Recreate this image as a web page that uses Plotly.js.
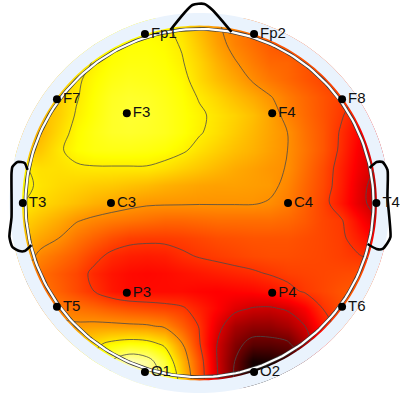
<!DOCTYPE html>
<html><head><meta charset="utf-8">
<script src="https://cdn.plot.ly/plotly-3.0.1.min.js"></script>
<style>html,body{margin:0;padding:0;background:#fff}#c{width:400px;height:400px}</style>
</head><body><div id="c"></div>
<script>
// Head coordinates: the scalp circle has radius 1, nose up.
const gridX = [-1,-.9,-.8,-.7,-.6,-.5,-.4,-.3,-.2,-.1,0,.1,.2,.3,.4,.5,.6,.7,.8,.9,1];
const gridY = [1,.9,.8,.7,.6,.5,.4,.3,.2,.1,0,-.1,-.2,-.3,-.4,-.5,-.6,-.7,-.8,-.9,-1];
const power = [
[30,30,29,28,27,26,26,26,27,30,36,41,45,48,50,52,54,56,58,60,60],
[31,31,30,29,28,26,25,25,26,28.5,34,39.5,44,47,50,52,54,56,58,60,61],
[33,33,32,31,27.5,25,24,24,25,27.5,32,37,41.5,45,48,48.5,51,53,55,57,59],
[35,35,34,29,26,23.5,22.5,23,24,26,31,35,38.5,42.5,45.5,48,50.5,53,55,57,59],
[37,36,33,28.5,25,22,21,21.5,23,25,28.5,31.5,35,38,41.5,45,48,51,54,57,60],
[38,36,32.5,27.5,24.5,21.5,20.5,21,22.5,24.5,27,29.5,32,35,39,44,47.5,51,55,60,64],
[38,36,31,26,23.5,21.5,21,21.5,22.5,24.5,27.5,30,33,36,39,42,46.5,50.5,56.5,62.5,68],
[35,33.5,29,25.5,24,23.5,23.5,24,25,27,30,32.5,35,37,39.5,42,46,50.5,57,64,69],
[27.5,30,30,29,28.5,28.5,28.5,28.5,30,32,34,36,38,39.5,41,42.2,47,52,58.5,65,70],
[26,29.5,31,32,33,33.5,34.5,35.5,37,38,39,39.5,39.5,40,40.5,43.5,48,52.5,59,66.5,73],
[28,31,33,35,37,38.5,40,41,41.2,41.3,41.5,41.5,41.5,41.5,42.5,45,49,53.5,60,67,73],
[32,35,38,41.5,43.5,45,46,47,48,48,47.5,47,47,47,47,48,50,53,55,62,69],
[35,39,42,46,49,52,54,54.5,54.5,54,53,52,51.5,51,51,51,52,53,54.5,59,64],
[38,44,47,50,54,57.5,59,59.5,59,57,55.5,54.5,53.5,52.5,52,52,52.5,53,54,55.5,58],
[41,47,50,53,57.5,60.5,62,62.5,62,61,60,59,58,57,55.5,54,53.5,53,52.5,52,52],
[40,46,49,52.5,56,60,62,62,62,62,63,63.5,63,62.5,61,58,55,53,51,50,50],
[38,42,45,46.5,48,50,51.5,52.5,53.5,55,59,63,68,70.5,71,69,64,56,52,50,49],
[35,38,39.5,40.5,40,40,40.5,41,43,49,56.5,67,76,79,79,76,70,60,53,50,49],
[38,36,34,32,30,26,24,25,29.5,41.5,55.5,70,81,87,87,85.5,76,62,54,50,49],
[40,38,36,32,26,14,7,10,20,36,52,70,84,97,96,92,85,75,60,50,49],
[40,38,36,34,28,14,8,9,15,32,51,69,85,99,100,96,88,80,65,52,49]
];
const contourStart = 14, contourEnd = 86, contourStep = 14;
const hotReversed = [[0,'#ffffff'],[.254,'#ffff00'],[.635,'#ff0000'],[1,'#000000']];

const electrodeNames = ['Fp1','Fp2','F7','F3','F4','F8','T3','C3','C4','T4','T5','P3','P4','T6','O1','O2'];
const electrodeX = [-.31,.31,-.81,-.413,.413,.81,-1.004,-.503,.503,1.005,-.81,-.413,.413,.81,-.31,.31];
const electrodeY = [.96,.96,.59,.51,.51,.59,0,0,0,0,-.59,-.51,-.51,-.59,-.96,-.96];

const noseX = [-.165,-.04,.028,.074,.182];
const noseY = [.983,1.125,1.131,1.097,.972];
const earLX = [-.977,-.994,-1.034,-1.063,-1.068,-1.068,-1.08,-1.063,-1.023,-.994,-.955];
const earLY = [.188,.227,.233,.205,.17,-.08,-.193,-.25,-.273,-.273,-.239];
const earRX = [.966,1.006,1.04,1.068,1.068,1.085,1.068,1.04,1.006,.955];
const earRY = [.199,.233,.233,.188,.034,-.193,-.227,-.261,-.261,-.233];

const ringR = 0.989, edgeR = 1.008, haloR = 1.08;
function loop(r, dir){
  const xs=[], ys=[];
  for(let i=0;i<=240;i++){const a=dir*i/240*2*Math.PI; xs.push(r*Math.cos(a)); ys.push(r*Math.sin(a));}
  return [xs,ys];
}
function band(rOuter, rInner){
  const o=loop(rOuter,1), n=loop(rInner,-1);
  return {x:o[0].concat([null],n[0]), y:o[1].concat([null],n[1])};
}
function frameHole(r){
  const s=1.2, n=loop(r,-1);
  return {x:[-s,s,s,-s,-s,null].concat(n[0]), y:[-s,-s,s,s,-s,null].concat(n[1])};
}
const ring = loop(ringR,1);
const skip = {hoverinfo:'skip', showlegend:false};
const mask = (o,color)=>Object.assign({type:'scatter',mode:'none',fill:'toself',fillcolor:color,x:o.x,y:o.y},skip);
const line = (x,y,color,w,shape)=>Object.assign({type:'scatter',mode:'lines',x,y,line:{color,width:w,shape:shape||'linear',smoothing:.6}},skip);

const traces = [
  Object.assign({type:'heatmap',x:gridX,y:gridY,z:power,zmin:0,zmax:100,zsmooth:'best',colorscale:hotReversed,showscale:false},{hoverinfo:'skip'}),
  Object.assign({type:'contour',x:gridX,y:gridY,z:power,showscale:false,autocontour:false,
    contours:{coloring:'none',start:contourStart,end:contourEnd,size:contourStep},
    line:{color:'#4a4a4a',width:0.8,smoothing:1}},{hoverinfo:'skip'}),
  mask(frameHole(haloR),'#ffffff'),
  mask(band(haloR,edgeR),'#eaf3fd'),
  line(ring[0],ring[1],'#3a3a3a',3.6),
  line(ring[0],ring[1],'#ffffff',2.2),
  line(noseX,noseY,'#000000',2.6,'spline'),
  line(earLX,earLY,'#000000',2.6,'spline'),
  line(earRX,earRY,'#000000',2.6,'spline'),
  {type:'scatter',mode:'markers+text',x:electrodeX,y:electrodeY,text:electrodeNames,textposition:'middle right',
   marker:{color:'#000',size:8},textfont:{family:'Liberation Sans',size:15,color:'#111'},hoverinfo:'text',showlegend:false,cliponaxis:false}
];
const hidden = {visible:false,fixedrange:true};
Plotly.newPlot('c',traces,{
  width:400,height:400,margin:{l:0,r:0,t:0,b:0},paper_bgcolor:'#fff',plot_bgcolor:'#fff',showlegend:false,
  xaxis:Object.assign({range:[-1.13352,1.13920]},hidden),
  yaxis:Object.assign({range:[-1.11932,1.15341]},hidden)
},{displayModeBar:false,staticPlot:true});
</script></body></html>
